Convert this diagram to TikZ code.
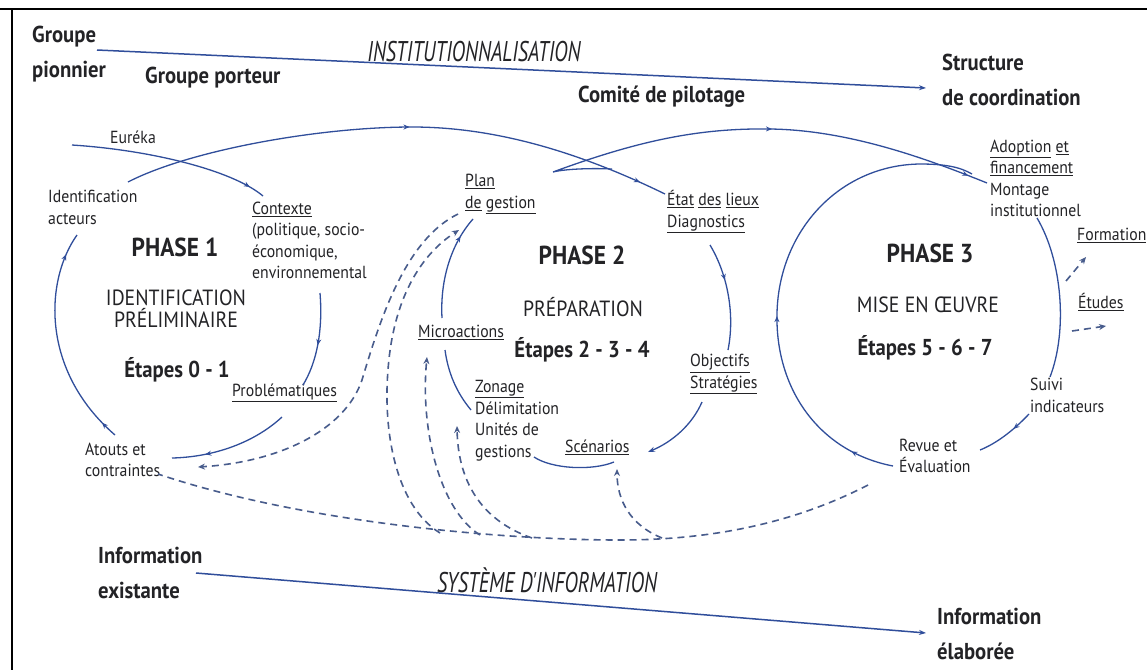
\documentclass[tikz,border=0pt]{standalone}
\usepackage{fontspec}
\setmainfont{PT Sans}[FakeStretch=0.9]
\newfontfamily\condfont{PT Sans}[FakeStretch=0.71]
\usetikzlibrary{arrows.meta}
\usetikzlibrary{decorations.markings}

\definecolor{lineblue}{RGB}{48,78,155}
\definecolor{dashblue}{RGB}{72,92,140}
\definecolor{inkgray}{RGB}{35,35,38}

\tikzset{
  txt/.style={inner sep=0pt, text=inkgray, align=left, anchor=west},
  small/.style={txt, font=\fontsize{17.5}{21.5}\selectfont},
  large/.style={txt, font=\bfseries\fontsize{23}{35}\selectfont},
  sysname/.style={inner sep=0pt, text=inkgray, font=\condfont\itshape\fontsize{28.5}{30}\selectfont},
  phasehead/.style={inner sep=0pt, text=inkgray, font=\bfseries\fontsize{26}{30}\selectfont},
  phasename/.style={inner sep=0pt, text=inkgray, align=center, font=\fontsize{22}{22}\selectfont},
  phasestep/.style={inner sep=0pt, text=inkgray, font=\bfseries\fontsize{23}{28}\selectfont},
  flow/.style={draw=lineblue, line width=1.3pt},
  sysflow/.style={draw=lineblue, line width=1.5pt, -{Stealth[length=7pt,width=5pt]}},
  info/.style={draw=dashblue, line width=1.6pt, dash pattern=on 7pt off 5pt},
  infotip/.style={-{Stealth[length=7pt,width=6pt]}},
  tipat/.style={postaction={decorate}, decoration={markings,
    mark=at position #1 with {\arrow{Stealth[length=6pt,width=5pt]}}}},
  tiptwo/.style 2 args={postaction={decorate}, decoration={markings,
    mark=at position #1 with {\arrow{Stealth[length=6pt,width=5pt]}},
    mark=at position #2 with {\arrow{Stealth[length=6pt,width=5pt]}}}},
}

\begin{document}
\begin{tikzpicture}[x=1pt,y=-1pt]
		\useasboundingbox[fill=white] (0,0) rectangle (1147,670);
		\draw[line width=2pt] (0,9) -- (1147,9);
		\draw[line width=2pt] (12,9) -- (12,670);

		\node[large] (gpion) at (32,54.5) {Groupe\\pionnier};
		\node[large] (gport) at (145,78) {Groupe porteur};
		\node[large] (comite) at (578,97) {Comité de pilotage};
		\node[large] (coord) at (942,80) {Structure\\de coordination};
		\node[sysname] (inst) at (474,52) {INSTITUTIONNALISATION};
		\coordinate (instfrom) at (97,50);
		\coordinate (instto) at (926,88);
		\draw[sysflow] (instfrom) -- (instto);

		\node[large] (infex) at (98,573) {Information\\existante};
		\node[large] (infel) at (937,634) {Information\\élaborée};
		\node[sysname] (sysinf) at (547,580) {SYSTÈME D'INFORMATION};
		\coordinate (sysfrom) at (196,573);
		\coordinate (systo) at (926,633);
		\draw[sysflow] (sysfrom) -- (systo);

		\node[phasehead] (ph1) at (175,247) {PHASE 1};
		\node[phasename] (ph1name) at (176,309) {IDENTIFICATION\\PRÉLIMINAIRE};
		\node[phasestep] (ph1step) at (177,370) {Étapes 0 - 1};
		\node[phasehead] (ph2) at (582,255) {PHASE 2};
		\node[phasename] (ph2name) at (583,307) {PRÉPARATION};
		\node[phasestep] (ph2step) at (582,350) {Étapes 2 - 3 - 4};
		\node[phasehead] (ph3) at (930,253) {PHASE 3};
		\node[phasename] (ph3name) at (928,305) {MISE EN ŒUVRE};
		\node[phasestep] (ph3step) at (925,348) {Étapes 5 - 6 - 7};

		\node[small] (eureka) at (110,137) {Euréka};
		\node[small] (idact) at (48,207.5) {Identification\\acteurs};
		\node[small] (ctx) at (252,240.5) {\underline{Contexte}\\(politique, socio-\\économique,\\environnemental};
		\node[small] (prob) at (232,393) {\underline{Problématiques}};
		\node[small] (atouts) at (85,460) {Atouts et\\contraintes};
		\node[small] (plan) at (465,194) {\underline{Plan}\\\underline{de} \underline{gestion}};
		\node[small] (etat) at (667,211.5) {\underline{État} \underline{des} \underline{lieux}\\\underline{Diagnostics}};
		\node[small] (micro) at (418,332) {\underline{Microactions}};
		\node[small] (obj) at (690,374) {\underline{Objectifs}\\\underline{Stratégies}};
		\node[small] (scen) at (565,447) {\underline{Scénarios}};
		\node[small] (zon) at (475,420.5) {\underline{Zonage}\\Délimitation\\Unités de\\gestions};
		\node[small] (adopt) at (990,178.5) {\underline{Adoption} \underline{et}\\\underline{financement}\\Montage\\institutionnel};
		\node[small] (form) at (1077,235) {\underline{Formation}};
		\node[small] (etud) at (1078,302) {\underline{Études}};
		\node[small] (suivi) at (1030,395.5) {Suivi\\indicateurs};
		\node[small] (revue) at (899,456) {Revue et\\Évaluation};

		% phase 1
		\coordinate (eur0) at (72,145);
		\draw[flow, tipat=0.92] (eur0) .. controls (150,150) and (232,170) .. (263,196);
		\draw[flow, tiptwo={0.52}{0.95}] (128,182) .. controls (190,150) and (320,127) .. (412,127)
			.. controls (500,127) and (585,155) .. (665,194);
		\draw[flow, tipat=0.55] (320,293) .. controls (323,330) and (317,362) .. (303,385);
		\draw[flow, tipat=0.72] (282,417) .. controls (255,442) and (215,457) .. (172,458);
		\draw[flow, tiptwo={0.08}{0.9}] (115,435) .. controls (40,370) and (45,280) .. (77,235);

		% phase 2
		\draw[flow, tipat=0.35] (710,245) .. controls (728,275) and (735,315) .. (728,350);
		\draw[flow, -{Stealth[length=7pt,width=5pt]}] (702,402) .. controls (692,425) and (672,442) .. (648,452);
		\draw[flow] (614,462) .. controls (592,471) and (552,469) .. (534,457);
		\draw[flow] (471,410) .. controls (456,392) and (448,372) .. (445,350);
		\draw[flow, tipat=0.8] (442,318) .. controls (440,282) and (450,245) .. (473,219);
		\draw[flow, tiptwo={0.56}{0.96}] (612,169) .. controls (590,168) and (565,169) .. (553,172)
			.. controls (640,140) and (700,128) .. (770,129)
			.. controls (850,130) and (930,160) .. (987,183);

		% phase 3
		\draw[flow, tiptwo={0.09}{0.42}] (893,466) .. controls (820,452) and (775,390) .. (777,313)
			.. controls (779,230) and (840,165) .. (920,164)
			.. controls (945,164) and (960,167) .. (972,174);
		\draw[flow] (1037,218) .. controls (1062,260) and (1068,330) .. (1050,377);
		\draw[flow, tipat=0.35] (1029,414) .. controls (1012,432) and (995,444) .. (980,450);

		% information
		\draw[info, infotip] (1066,281) -- (1086,257);
		\draw[info, infotip] (1072,331) -- (1106,326);
		\draw[info, infotip] (458,214) .. controls (405,240) and (380,320) .. (362,380)
			.. controls (345,430) and (280,462) .. (198,467);
		\draw[info, infotip] (440,533) .. controls (395,505) and (383,430) .. (388,370)
			.. controls (393,300) and (420,255) .. (459,230);
		\draw[info, infotip] (480,535) .. controls (440,510) and (420,430) .. (427,357);
		\draw[info, infotip] (532,538) .. controls (480,520) and (458,480) .. (457,426);
		\draw[info, infotip] (662,538) .. controls (630,525) and (617,500) .. (617,469);
		\draw[info] (868,485) .. controls (800,520) and (720,540) .. (620,540)
			.. controls (500,540) and (300,522) .. (158,474);
	\end{tikzpicture}
\end{document}
